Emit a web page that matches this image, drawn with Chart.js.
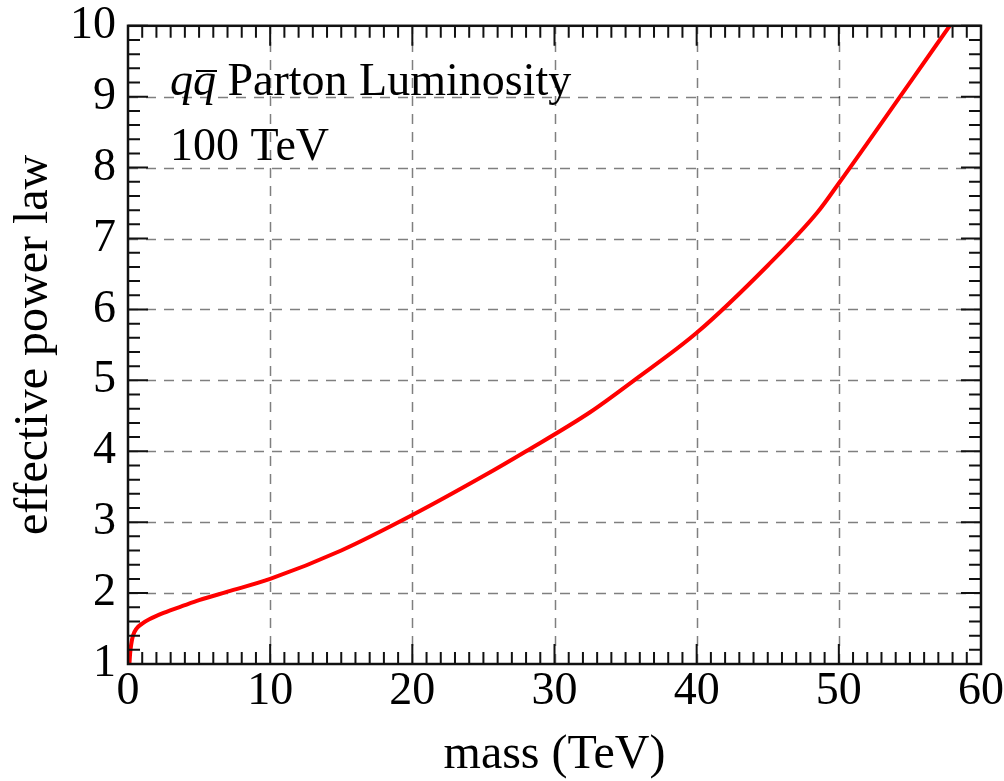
<!DOCTYPE html>
<html>
<head>
<meta charset="utf-8">
<script src="https://cdn.jsdelivr.net/npm/chart.js@4"></script>
<style>
  body { margin: 0; background: #fff; }
  #box { width: 1004px; height: 781px; }
</style>
</head>
<body>
<div id="box"><canvas id="grafico"></canvas></div>
<script>
// curve
const massTeV  = [0.1, 0.15, 0.22, 0.35, 0.6, 1.0, 1.5, 2.5, 4, 5, 7, 10, 15, 20, 25, 28, 32.5, 35.6, 40, 45, 48.5, 50, 55, 57.8];
const powerLaw = [1.0, 1.15, 1.27, 1.4, 1.5, 1.57, 1.63, 1.72, 1.83, 1.9, 2.02, 2.2, 2.6, 3.1, 3.65, 4.0, 4.55, 5.0, 5.67, 6.62, 7.37, 7.78, 9.2, 10.0];

const xTicks = [0, 10, 20, 30, 40, 50, 60];
const yTicks = [1, 2, 3, 4, 5, 6, 7, 8, 9, 10];

const serif = '"Liberation Serif", "Times New Roman", serif';

// grid, frame and inward ticks like the original
const frame = {
  id: 'frame',
  beforeDatasetsDraw(chart) {
    const ctx = chart.ctx, a = chart.chartArea;
    const sx = chart.scales.x, sy = chart.scales.y;
    ctx.save();
    ctx.strokeStyle = 'rgba(0,0,0,0.5)';
    ctx.lineWidth = 1.5;
    ctx.setLineDash([10, 8]);
    xTicks.slice(1, -1).forEach(v => {
      const px = Math.round(sx.getPixelForValue(v)) + 0.5;
      ctx.beginPath(); ctx.moveTo(px, a.bottom); ctx.lineTo(px, a.top); ctx.stroke();
    });
    yTicks.slice(1, -1).forEach(v => {
      const py = Math.round(sy.getPixelForValue(v)) + 0.5;
      ctx.beginPath(); ctx.moveTo(a.left, py); ctx.lineTo(a.right, py); ctx.stroke();
    });
    ctx.restore();
  },
  afterDatasetsDraw(chart) {
    const ctx = chart.ctx, a = chart.chartArea;
    const sx = chart.scales.x, sy = chart.scales.y;
    ctx.save();
    ctx.strokeStyle = '#111';
    ctx.lineWidth = 2;
    ctx.beginPath();
    for (let v = 0; v <= 60; v += 1) {
      const px = sx.getPixelForValue(v);
      const len = v % 10 === 0 ? 20 : 12;
      ctx.moveTo(px, a.bottom); ctx.lineTo(px, a.bottom - len);
      ctx.moveTo(px, a.top); ctx.lineTo(px, a.top + len);
    }
    for (let i = 0; i <= 45; i++) {
      const v = 1 + i * 0.2;
      const py = sy.getPixelForValue(v);
      const len = i % 5 === 0 ? 20 : 12;
      ctx.moveTo(a.left, py); ctx.lineTo(a.left + len, py);
      ctx.moveTo(a.right, py); ctx.lineTo(a.right - len, py);
    }
    ctx.stroke();
    ctx.lineWidth = 2.5;
    ctx.strokeRect(a.left, a.top, a.right - a.left, a.bottom - a.top);
    ctx.restore();
  },
  afterDraw(chart) {
    const ctx = chart.ctx;
    ctx.save();
    ctx.fillStyle = '#000';
    ctx.textBaseline = 'alphabetic';
    ctx.font = 'italic 46px ' + serif;
    ctx.fillText('q', 170, 95);
    const w = ctx.measureText('q').width;
    ctx.fillText('q', 170 + w, 95);
    ctx.fillRect(170 + w + 3, 70, w - 2, 2);
    ctx.font = '46px ' + serif;
    ctx.fillText(' Parton Luminosity', 170 + 2 * w, 95);
    ctx.fillText('100 TeV', 170, 160);
    ctx.restore();
  }
};

new Chart(document.getElementById('grafico'), {
  type: 'line',
  data: {
    datasets: [{
      data: massTeV.map((m, i) => ({ x: m, y: powerLaw[i] })),
      borderColor: '#ff0000',
      borderWidth: 4,
      pointRadius: 0,
      cubicInterpolationMode: 'monotone',
      fill: false
    }]
  },
  options: {
    responsive: true,
    maintainAspectRatio: false,
    animation: false,
    layout: { padding: { top: 0, right: 0, left: 0, bottom: 0 } },
    plugins: { legend: { display: false }, tooltip: { enabled: false } },
    scales: {
      x: {
        type: 'linear', min: 0, max: 60,
        afterBuildTicks(s) { s.ticks = xTicks.map(v => ({ value: v })); },
        afterFit(s) { s.height = 117; },
        grid: { display: false, drawTicks: false },
        border: { display: false },
        ticks: { color: '#000', font: { family: serif, size: 46 }, padding: 0, maxRotation: 0 },
        title: { display: true, text: 'mass (TeV)', color: '#000',
                 font: { family: serif, size: 48, lineHeight: 1 }, padding: { top: 0, bottom: 2 } }
      },
      y: {
        min: 1, max: 10,
        afterBuildTicks(s) { s.ticks = yTicks.map(v => ({ value: v })); },
        afterFit(s) { s.width = 128; },
        grid: { display: false, drawTicks: false },
        border: { display: false },
        ticks: { color: '#000', font: { family: serif, size: 46, lineHeight: 0.6 }, padding: 12 },
        title: { display: true, text: 'effective power law', color: '#000',
                 font: { family: serif, size: 48, lineHeight: 1 }, padding: { top: 10, bottom: 0 } }
      }
    }
  },
  plugins: [frame]
});
</script>
</body>
</html>
